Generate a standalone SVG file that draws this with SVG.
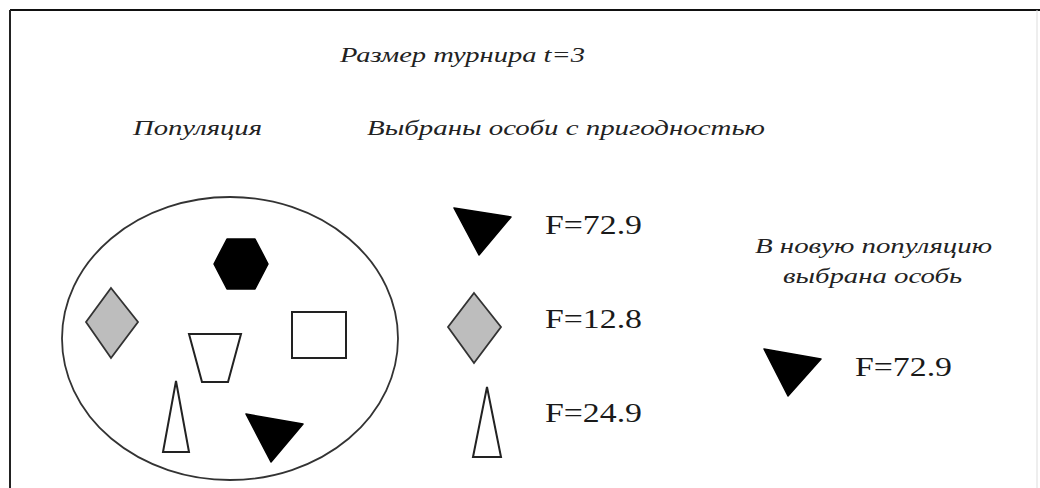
<svg xmlns="http://www.w3.org/2000/svg" width="1040" height="488" viewBox="0 0 1040 488">
<style>
.it{font-family:"Liberation Serif","Times New Roman",serif;font-style:italic;font-size:22px;fill:#222}
.fv{font-family:"Liberation Serif","Times New Roman",serif;font-size:28px;fill:#1a1a1a}
.blk{fill:#000;stroke:#000;stroke-width:1.5;stroke-linejoin:round}
.gry{fill:#bdbdbd;stroke:#333;stroke-width:1.8}
.wht{fill:#fff;stroke:#222;stroke-width:2}
</style>
<rect width="1040" height="488" fill="#fff"/>
<g id="frame">
<line x1="10" y1="10" x2="1040" y2="10" stroke="#111" stroke-width="2"/>
<line x1="10" y1="10" x2="10" y2="488" stroke="#222" stroke-width="2"/>
<line x1="1037" y1="10" x2="1037" y2="488" stroke="#ddd" stroke-width="1"/>
</g>
<g id="labels">
<text class="it" x="340" y="62" textLength="245" lengthAdjust="spacingAndGlyphs">Размер турнира t=3</text>
<text class="it" x="133" y="135" textLength="129" lengthAdjust="spacingAndGlyphs">Популяция</text>
<text class="it" x="367" y="135" textLength="398" lengthAdjust="spacingAndGlyphs">Выбраны особи с пригодностью</text>
</g>
<g id="population">
<ellipse cx="230" cy="338.5" rx="168" ry="141.5" fill="none" stroke="#333" stroke-width="1.8"/>
<polygon class="blk" points="227,239 255,239 268,264 255,289 227,289 214,264"/>
<polygon class="gry" points="111,288 138,322 111,358 86,322"/>
<polygon class="wht" points="189,334 241,334 228,382 202,382"/>
<rect class="wht" x="292" y="312" width="54" height="46"/>
<polygon class="wht" points="176,381 189,452 163,452"/>
<polygon class="blk" points="246,414 303,424 271,462"/>
</g>
<g id="selected">
<polygon class="blk" points="454,208 511,217 479,255"/>
<text class="fv" x="545" y="234" textLength="97" lengthAdjust="spacingAndGlyphs">F=72.9</text>
<polygon class="gry" points="474,293 501,327 474,363 448,327"/>
<text class="fv" x="545" y="328" textLength="97" lengthAdjust="spacingAndGlyphs">F=12.8</text>
<polygon class="wht" points="487,387 501,457 473,457"/>
<text class="fv" x="545" y="422" textLength="97" lengthAdjust="spacingAndGlyphs">F=24.9</text>
</g>
<g id="winner">
<text class="it" x="755" y="253" textLength="237" lengthAdjust="spacingAndGlyphs">В новую популяцию</text>
<text class="it" x="783" y="283" textLength="179" lengthAdjust="spacingAndGlyphs">выбрана особь</text>
<polygon class="blk" points="764,349 821,359 788,396"/>
<text class="fv" x="855" y="376" textLength="97" lengthAdjust="spacingAndGlyphs">F=72.9</text>
</g>
<g id="connectors"/>
</svg>
